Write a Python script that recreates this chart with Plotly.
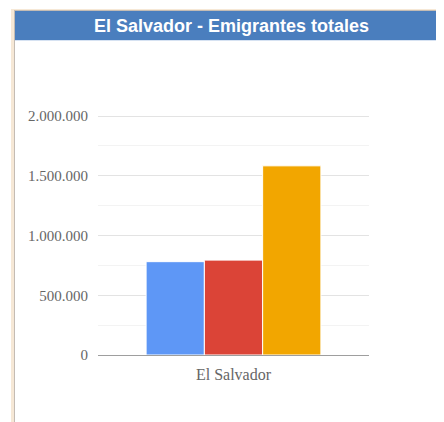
import plotly.graph_objects as go

categories = ["El Salvador"]
series_names = ["Hombres", "Mujeres", "Total"]
series_values = [[781000], [794000], [1583000]]
series_colors = ["#5e97f6", "#db4437", "#f2a600"]
title_text = "El Salvador - Emigrantes totales"
y_ticks = [0, 500000, 1000000, 1500000, 2000000]
y_minor = [250000, 750000, 1250000, 1750000]

OFF = 8  # default page body margin
W, H = 444 - OFF, 422 - OFF
# plot area in page pixels: x 98..369, y 114..355 (2M gridline at 116)
L, R, T, B = 98 - OFF, W - (369 - OFF), 114 - OFF, H - (355 - OFF)
pw, ph = W - L - R, H - T - B
y_top = 2000000 * ph / 239.0

def px(x):
    return (x - OFF - L) / pw

def py(y):
    return (H - B - (y - OFF)) / ph

fig = go.Figure()
for name, vals, col in zip(series_names, series_values, series_colors):
    fig.add_trace(go.Bar(x=categories, y=vals, name=name, marker=dict(color=col, line=dict(color="white", width=1))))

shapes = [
    dict(type="rect", xref="paper", yref="paper", x0=px(11), x1=px(14), y0=py(H + 20), y1=py(9), fillcolor="#f6e8d6", line=dict(width=0), layer="above"),
    dict(type="rect", xref="paper", yref="paper", x0=px(14), x1=px(15), y0=py(H + 20), y1=py(10), fillcolor="#c4bcb4", line=dict(width=0), layer="above"),
    dict(type="rect", xref="paper", yref="paper", x0=px(11), x1=px(460), y0=py(10), y1=py(9), fillcolor="#f6e8d6", line=dict(width=0), layer="above"),
    dict(type="rect", xref="paper", yref="paper", x0=px(14), x1=px(460), y0=py(11), y1=py(10), fillcolor="#c4bcb4", line=dict(width=0), layer="above"),
    dict(type="rect", xref="paper", yref="paper", x0=px(15), x1=px(460), y0=py(40), y1=py(11), fillcolor="#4a7ebe", line=dict(width=0), layer="above"),
    dict(type="rect", xref="paper", yref="paper", x0=px(15), x1=px(460), y0=py(41), y1=py(40), fillcolor="#d6e2f2", line=dict(width=0), layer="above"),
]

fig.update_layout(
    width=W, height=H,
    margin=dict(l=L, r=R, t=T, b=B, pad=0),
    paper_bgcolor="white", plot_bgcolor="white",
    barmode="group", bargap=0.355, bargroupgap=0,
    showlegend=False,
    separators=",.",
    shapes=shapes,
    annotations=[dict(text="<b>" + title_text + "</b>", xref="paper", yref="paper", x=px(231), y=py(25.5),
                      xanchor="center", yanchor="middle", showarrow=False,
                      font=dict(family="Liberation Sans, Arial", size=18, color="white"))],
    xaxis=dict(showgrid=False, showline=True, linecolor="#9e9e9e", linewidth=1,
               tickfont=dict(family="Liberation Serif, Times New Roman", size=16, color="#666666"),
               ticks="", ticklabelstandoff=5, fixedrange=True),
    yaxis=dict(range=[0, y_top], tickvals=y_ticks, tickformat=",d",
               showgrid=True, gridcolor="#e3e3e3", gridwidth=1, zeroline=False,
               minor=dict(tickvals=y_minor, showgrid=True, gridcolor="#f3f3f3", gridwidth=1),
               tickfont=dict(family="Liberation Serif, Times New Roman", size=15, color="#666666"),
               ticks="", ticklabelstandoff=9, fixedrange=True),
)

fig.write_html("out.html", config={"displayModeBar": False})
